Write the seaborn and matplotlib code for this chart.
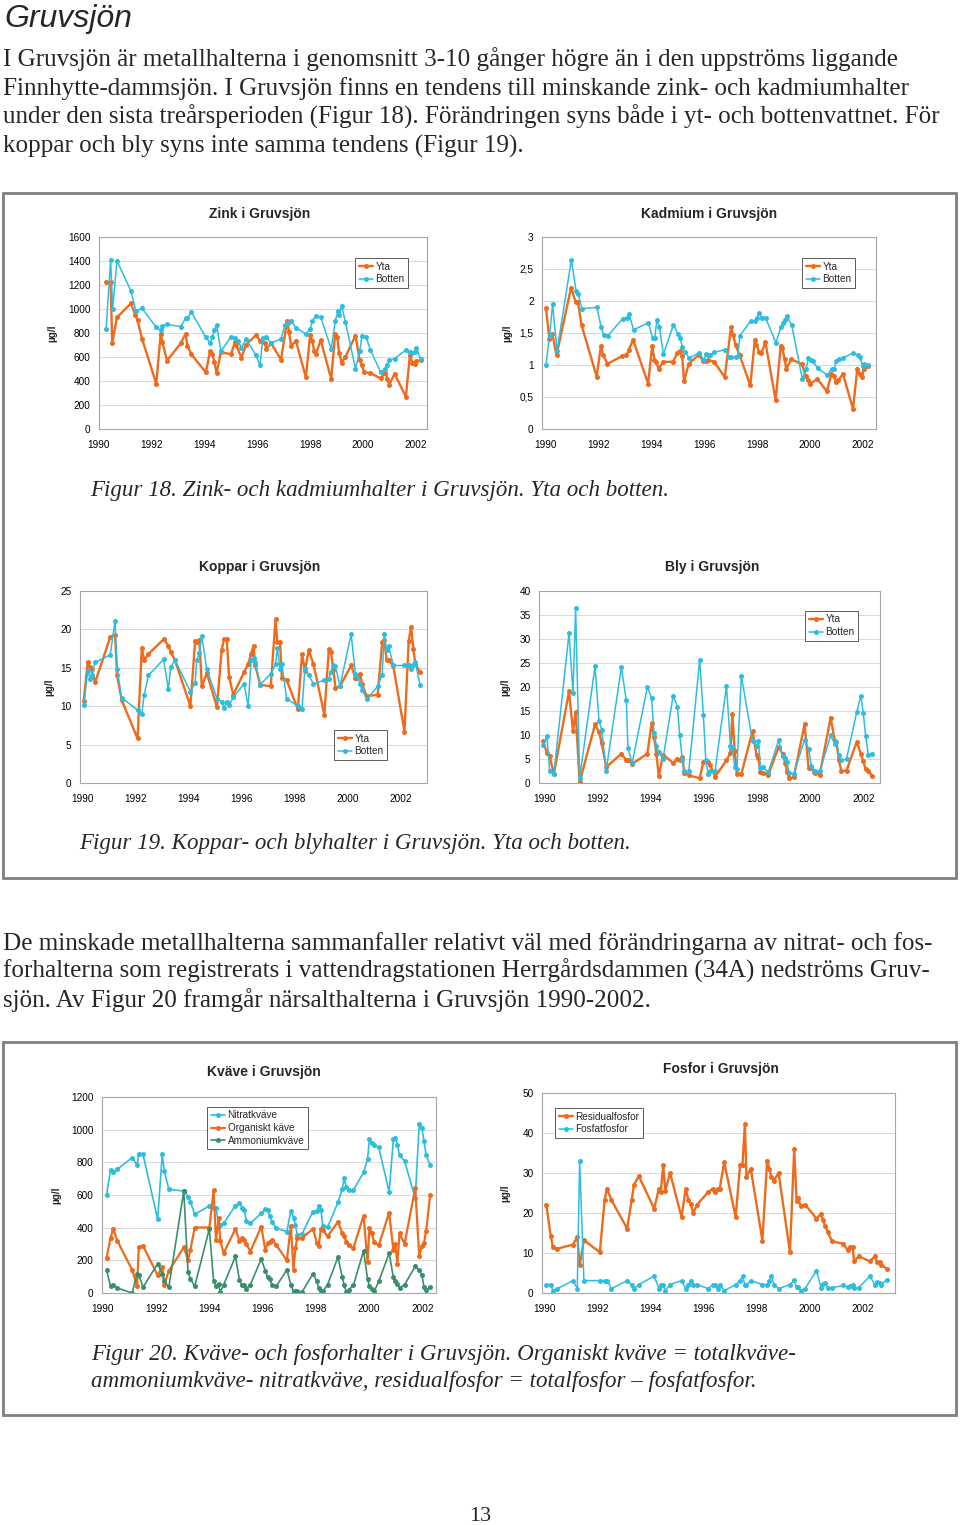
import matplotlib
matplotlib.use("Agg")
import matplotlib.pyplot as plt
from matplotlib.patches import Rectangle
from matplotlib.ticker import FuncFormatter, MultipleLocator
import seaborn as sns

# ---------------- data ----------------
years_ticks = [1990, 1992, 1994, 1996, 1998, 2000, 2002]

zn_yta_x = [1990.27,1990.44,1990.5,1990.68,1991.21,1991.38,1991.46,1991.63,1992.17,1992.34,1992.4,1992.58,1993.1,1993.28,1993.35,1993.5,1994.05,1994.21,1994.3,1994.37,1994.46,1994.62,1995.0,1995.15,1995.2,1995.4,1995.57,1995.94,1996.1,1996.28,1996.34,1996.52,1996.9,1997.13,1997.2,1997.28,1997.46,1997.84,1998.0,1998.09,1998.15,1998.23,1998.4,1998.8,1998.95,1999.03,1999.1,1999.2,1999.34,1999.72,1999.88,1999.96,2000.05,2000.28,2000.67,2000.84,2000.93,2001.0,2001.2,2001.63,2001.78,2001.88,2001.96,2002.03,2002.19]
zn_yta_y = [1222,1222,717,930,1047,947,905,753,378,795,722,570,714,795,692,622,472,650,622,556,467,642,622,722,697,592,703,780,736,717,669,714,578,903,808,692,736,430,780,736,647,628,742,417,795,764,633,553,603,778,572,536,472,467,422,467,419,369,461,269,614,553,544,567,572]
zn_bot_x = [1990.27,1990.44,1990.52,1990.68,1991.21,1991.4,1991.63,1992.17,1992.34,1992.4,1992.58,1993.1,1993.28,1993.35,1993.5,1994.05,1994.21,1994.3,1994.37,1994.46,1994.62,1995.0,1995.15,1995.28,1995.4,1995.57,1995.94,1996.1,1996.21,1996.34,1996.52,1996.9,1997.05,1997.15,1997.28,1997.46,1997.84,1998.0,1998.09,1998.21,1998.4,1998.8,1998.95,1999.05,1999.1,1999.2,1999.34,1999.72,1999.88,1999.96,2000.13,2000.28,2000.67,2000.84,2000.93,2001.0,2001.2,2001.63,2001.78,2001.88,2001.96,2002.03,2002.19]
zn_bot_y = [833,1408,1000,1403,1150,981,1006,847,822,861,872,853,922,925,975,764,717,764,828,864,647,769,758,731,675,750,617,531,758,764,717,750,869,883,903,844,792,833,900,944,933,667,897,981,953,1022,889,503,647,772,764,661,475,503,536,572,586,658,644,633,639,675,583]

cd_yta_x = [1990.0,1990.13,1990.24,1990.4,1990.95,1991.12,1991.21,1991.35,1991.92,1992.08,1992.17,1992.33,1992.89,1993.05,1993.14,1993.3,1993.87,1994.02,1994.11,1994.18,1994.27,1994.43,1994.81,1994.98,1995.07,1995.16,1995.23,1995.41,1995.79,1995.96,1996.05,1996.14,1996.37,1996.77,1997.01,1997.09,1997.18,1997.34,1997.74,1997.91,1997.97,1998.07,1998.16,1998.31,1998.7,1998.89,1998.95,1999.04,1999.1,1999.29,1999.7,1999.84,1999.92,2000.01,2000.28,2000.64,2000.81,2000.91,2000.98,2001.07,2001.25,2001.63,2001.79,2001.88,2001.98,2002.03,2002.19]
cd_yta_y = [1.89,1.41,1.49,1.15,2.21,1.99,1.98,1.62,0.82,1.29,1.15,1.02,1.14,1.15,1.24,1.39,0.71,1.29,1.08,1.04,0.94,1.05,1.05,1.19,1.22,1.14,0.75,1.02,1.16,1.06,1.07,1.08,1.05,0.81,1.59,1.47,1.31,1.15,0.68,1.39,1.32,1.2,1.18,1.36,0.45,1.3,1.26,1.09,0.94,1.09,1.01,0.83,0.76,0.71,0.78,0.59,0.86,0.83,0.73,0.76,0.86,0.31,0.94,0.86,0.81,0.93,0.98]
cd_bot_x = [1990.0,1990.14,1990.25,1990.42,1990.96,1991.14,1991.22,1991.36,1991.93,1992.09,1992.18,1992.35,1992.9,1993.06,1993.15,1993.32,1993.88,1994.04,1994.12,1994.2,1994.29,1994.45,1994.83,1994.99,1995.08,1995.17,1995.25,1995.42,1995.8,1995.98,1996.07,1996.15,1996.22,1996.38,1996.79,1996.95,1997.02,1997.19,1997.26,1997.35,1997.76,1997.92,1997.98,1998.08,1998.17,1998.32,1998.71,1998.9,1998.97,1999.05,1999.12,1999.31,1999.71,1999.85,1999.94,2000.03,2000.1,2000.29,2000.66,2000.82,2000.92,2001.0,2001.09,2001.26,2001.64,2001.8,2001.89,2001.99,2002.04,2002.21]
cd_bot_y = [1.0,1.47,1.95,1.22,2.64,2.16,2.11,1.88,1.9,1.59,1.47,1.46,1.72,1.74,1.79,1.55,1.66,1.42,1.42,1.7,1.6,1.17,1.63,1.49,1.42,1.28,1.21,1.11,1.19,1.08,1.17,1.15,1.15,1.2,1.24,1.12,1.12,1.12,1.14,1.46,1.69,1.68,1.73,1.82,1.73,1.73,1.35,1.59,1.65,1.71,1.77,1.62,0.78,0.93,1.11,1.08,1.06,0.95,0.84,0.94,0.94,1.07,1.09,1.11,1.19,1.15,1.12,0.99,1.02,1.0]

cu_dates = [1990.06,1990.21,1990.3,1990.36,1990.49,1991.06,1991.24,1991.32,1991.49,1992.09,1992.25,1992.34,1992.5,1993.07,1993.25,1993.34,1993.5,1994.08,1994.26,1994.32,1994.42,1994.51,1994.7,1995.08,1995.26,1995.35,1995.45,1995.54,1995.7,1996.1,1996.26,1996.37,1996.46,1996.52,1996.71,1997.11,1997.29,1997.36,1997.46,1997.53,1997.71,1998.13,1998.29,1998.4,1998.54,1998.72,1999.13,1999.3,1999.38,1999.47,1999.55,1999.72,2000.14,2000.3,2000.38,2000.48,2000.55,2000.73,2001.14,2001.31,2001.39,2001.48,2001.56,2001.73,2002.15,2002.31,2002.4,2002.49,2002.56,2002.74]
cu_yta = [10.7,15.7,15.1,14.8,13.1,19.0,19.3,14.0,10.8,5.8,17.6,16.0,16.8,18.7,17.9,17.1,16.0,10.0,18.5,18.4,18.6,12.6,14.3,9.9,17.3,18.7,18.7,13.8,11.5,14.4,15.5,16.8,17.9,15.4,12.8,12.6,21.3,18.3,18.3,13.7,13.4,9.6,16.8,14.6,17.3,15.5,8.9,17.4,17.1,14.7,12.4,12.6,15.3,13.7,13.7,14.2,12.9,11.3,11.5,18.3,18.6,16.0,16.0,15.2,6.7,18.5,20.3,17.4,15.5,14.4]
cu_bot = [10.1,14.6,13.6,14.1,15.7,16.7,21.1,14.8,11.1,9.5,9.0,11.5,14.0,16.1,12.2,15.1,16.0,11.9,13.0,16.0,16.9,19.2,14.8,11.0,10.6,9.8,10.6,10.1,11.2,12.9,10.0,16.0,16.3,15.8,12.8,14.2,15.5,17.6,14.8,15.5,11.0,10.0,9.7,15.0,14.1,12.9,13.4,13.5,14.5,15.4,15.2,12.6,19.4,14.2,13.8,12.9,12.1,10.9,12.6,14.1,19.4,17.3,17.8,15.3,15.3,15.3,14.9,15.3,15.7,12.7]

pb_dates = [1989.94,1990.09,1990.19,1990.35,1990.92,1991.07,1991.17,1991.32,1991.9,1992.05,1992.15,1992.32,1992.89,1993.08,1993.14,1993.3,1993.87,1994.03,1994.12,1994.21,1994.3,1994.46,1994.84,1995.0,1995.09,1995.19,1995.26,1995.43,1995.84,1995.98,1996.07,1996.16,1996.24,1996.42,1996.85,1997.0,1997.07,1997.16,1997.24,1997.41,1997.83,1997.98,1998.05,1998.13,1998.23,1998.42,1998.81,1998.96,1999.06,1999.13,1999.21,1999.38,1999.79,1999.94,2000.05,2000.13,2000.2,2000.36,2000.77,2000.93,2000.99,2001.08,2001.18,2001.37,2001.75,2001.91,2002.0,2002.09,2002.19,2002.34]
pb_yta = [8.7,6.3,5.6,1.9,19.1,10.8,14.7,0.2,12.2,10.6,8.3,3.3,6.1,4.7,4.7,4.0,6.1,12.4,9.6,6.1,1.5,5.9,4.2,5.1,4.7,5.4,2.1,1.6,1.0,4.4,4.5,4.4,3.7,1.3,4.7,6.3,14.3,6.6,1.9,1.9,10.8,5.9,5.2,2.2,2.1,1.6,7.5,6.1,4.2,2.2,1.0,1.2,12.2,3.1,3.1,2.2,2.1,1.7,13.6,8.8,8.5,4.7,2.4,2.6,8.5,6.1,4.5,2.9,2.6,1.4]
pb_bot = [8.0,9.7,2.6,1.9,31.2,18.8,36.4,1.0,24.3,12.9,11.1,2.6,24.1,17.2,7.2,4.2,20.0,17.7,10.4,7.8,6.4,5.0,18.2,15.9,9.9,4.7,2.4,2.4,25.7,14.1,4.7,1.9,2.6,2.6,20.2,7.8,7.5,3.3,2.9,22.3,8.7,7.7,8.8,3.1,3.3,2.2,8.9,5.6,5.2,4.3,2.1,1.9,9.0,7.1,3.5,2.6,2.4,2.4,9.9,8.1,8.5,5.9,4.7,5.0,14.7,18.2,14.6,9.8,5.8,6.1]

n_dates = [1990.14,1990.29,1990.39,1990.54,1991.1,1991.29,1991.35,1991.51,1992.06,1992.23,1992.31,1992.48,1993.04,1993.2,1993.29,1993.45,1994.0,1994.16,1994.25,1994.35,1994.41,1994.54,1994.98,1995.13,1995.23,1995.31,1995.39,1995.54,1995.95,1996.1,1996.19,1996.26,1996.35,1996.51,1996.91,1997.06,1997.16,1997.23,1997.3,1997.48,1997.89,1998.04,1998.1,1998.19,1998.26,1998.44,1998.83,1998.99,1999.06,1999.14,1999.23,1999.41,1999.79,1999.94,2000.01,2000.1,2000.19,2000.36,2000.75,2000.91,2000.98,2001.06,2001.14,2001.33,2001.73,2001.88,2001.98,2002.06,2002.14,2002.29]
nitrat = [600,752,738,757,828,783,854,848,451,848,746,635,624,590,559,482,533,523,523,411,415,427,535,553,523,508,443,427,488,512,508,474,437,397,376,504,462,417,356,362,498,502,533,508,413,403,555,635,702,647,630,630,738,820,940,921,905,891,620,940,952,909,844,809,580,1033,1011,929,844,783]
organiskt = [214,336,393,321,142,41,281,289,108,161,51,136,279,203,264,401,401,630,323,458,319,244,393,319,336,325,299,254,407,264,305,315,325,295,199,413,142,275,336,336,393,305,285,393,386,346,437,366,346,315,295,275,474,189,397,366,311,291,492,264,301,177,366,301,641,228,285,305,380,600]
ammonium = [142,41,47,31,0,118,112,35,179,116,71,37,624,128,87,41,393,71,45,55,6,51,224,81,47,51,26,51,209,136,96,87,51,41,142,51,6,10,10,6,118,71,31,10,10,51,220,96,51,6,20,47,258,87,41,24,10,71,244,96,71,55,31,51,163,142,108,37,20,35]

p_dates = [1990.06,1990.23,1990.31,1990.48,1991.07,1991.23,1991.32,1991.48,1992.08,1992.26,1992.35,1992.52,1993.11,1993.28,1993.37,1993.55,1994.13,1994.31,1994.38,1994.47,1994.55,1994.73,1995.16,1995.32,1995.42,1995.51,1995.6,1995.75,1996.16,1996.35,1996.44,1996.52,1996.6,1996.77,1997.2,1997.37,1997.46,1997.55,1997.61,1997.77,1998.21,1998.39,1998.47,1998.55,1998.64,1998.82,1999.25,1999.41,1999.5,1999.57,1999.65,1999.82,2000.25,2000.42,2000.5,2000.58,2000.67,2000.84,2001.26,2001.42,2001.51,2001.61,2001.67,2001.84,2002.26,2002.45,2002.54,2002.64,2002.7,2002.89]
residualfosfor = [22.1,14.2,11.5,11.1,12.1,14.0,6.9,13.2,10.2,23.2,26.1,23.2,16.1,23.2,27.1,29.2,21.1,26.1,25.3,32.1,25.6,30.0,19.0,26.1,23.2,22.3,20.0,22.1,25.2,26.1,25.2,26.1,26.1,32.7,19.0,32.1,32.1,42.3,29.0,31.1,13.1,33.1,31.1,28.9,28.1,30.0,10.2,36.0,22.9,23.8,21.7,22.1,18.6,19.8,18.2,16.8,15.2,12.9,12.3,10.8,11.5,11.4,7.9,9.2,7.9,9.2,7.7,7.7,7.1,6.1]
fosfatfosfor = [2.1,2.1,0.6,1.1,3.1,1.1,33.1,3.1,3.1,3.1,3.1,1.1,3.1,2.1,1.1,2.1,4.2,1.1,2.1,2.1,0.6,2.1,3.1,1.1,2.1,3.1,2.1,2.1,1.1,2.1,2.1,1.1,2.1,0.6,2.1,3.1,4.2,2.1,2.1,3.1,2.1,2.1,2.9,4.2,2.1,1.1,2.1,3.2,1.4,1.4,0.6,1.1,5.6,1.3,2.2,2.4,1.3,1.3,1.9,1.5,1.7,1.9,1.3,1.3,4.2,2.1,2.7,2.4,2.1,3.3]

# ---------------- style ----------------
sns.set_style("white")
plt.rcParams['font.family'] = ['Liberation Sans', 'DejaVu Sans']

ORANGE = "#EE6B1E"
BLUE = "#2DBDE0"
GREEN = "#3A8F6B"

W, H = 960, 1525
fig = plt.figure(figsize=(W / 100, H / 100), dpi=100)
fig.patch.set_facecolor("white")


def fx(x):
    return x / W


def fy(y):
    return 1 - y / H


def add_ax(l, t, r, b):
    return fig.add_axes([l / W, 1 - b / H, (r - l) / W, (b - t) / H])


def style_ax(ax, xlim, ylim, ystep, ylab_x, fmt=None):
    ax.set_xlim(*xlim)
    ax.set_ylim(*ylim)
    ax.set_xticks(years_ticks)
    ax.set_xticklabels([str(y) for y in years_ticks])
    ax.yaxis.set_major_locator(MultipleLocator(ystep))
    if fmt is not None:
        ax.yaxis.set_major_formatter(FuncFormatter(fmt))
    ax.yaxis.grid(True, color="#D9D9D9", lw=0.7)
    ax.xaxis.grid(False)
    ax.set_axisbelow(True)
    for s in ax.spines.values():
        s.set_color("#A6A6A6")
        s.set_linewidth(0.8)
        s.set_visible(True)
    ax.tick_params(axis="both", direction="out", length=2.5, width=0.6,
                   color="#808080", labelsize=7.2, labelcolor="black")
    ax.tick_params(axis="y", pad=3.5)
    ax.tick_params(axis="x", pad=5.5)
    ax.set_xlabel("")
    ax.set_ylabel("µg/l", fontsize=7.2, fontweight="bold")
    ax.yaxis.set_label_coords(ylab_x, 0.5)


def line(ax, x, y, color, lw, label):
    sns.lineplot(x=x, y=y, ax=ax, color=color, linewidth=lw, marker="o",
                 markersize=3.6, markeredgewidth=0, estimator=None,
                 errorbar=None, sort=False, label=label)


def legend(ax, l, t):
    h, lab = ax.get_legend_handles_labels()
    leg = ax.legend(h, lab, loc="upper left", bbox_to_anchor=(fx(l), fy(t)),
                    bbox_transform=fig.transFigure, frameon=True, fancybox=False,
                    edgecolor="#404040", framealpha=1, fontsize=7.2,
                    handlelength=1.4, handletextpad=0.3, borderpad=0.35,
                    labelspacing=0.25, borderaxespad=0, numpoints=1)
    leg.get_frame().set_linewidth(0.6)


def chart_title(x, y, s):
    fig.text(fx(x), fy(y), s, ha="center", va="center", fontsize=10,
             fontweight="bold")


comma = lambda v, p: ("%g" % v).replace(".", ",")

# ---------------- Zink ----------------
ax = add_ax(99, 237, 427, 429)
line(ax, zn_yta_x, zn_yta_y, ORANGE, 1.7, "Yta")
line(ax, zn_bot_x, zn_bot_y, BLUE, 1.1, "Botten")
style_ax(ax, (1990.0, 2002.43), (0, 1600), 200, -0.128)
legend(ax, 355, 258)
chart_title(260, 214, "Zink i Gruvsjön")

# ---------------- Kadmium ----------------
ax = add_ax(542, 237, 876, 429)
line(ax, cd_yta_x, cd_yta_y, ORANGE, 1.7, "Yta")
line(ax, cd_bot_x, cd_bot_y, BLUE, 1.1, "Botten")
style_ax(ax, (1989.85, 2002.5), (0, 3), 0.5, -0.09, comma)
legend(ax, 802, 258)
chart_title(709, 214, "Kadmium i Gruvsjön")

# ---------------- Koppar ----------------
ax = add_ax(80, 591, 427, 783)
line(ax, cu_dates, cu_yta, ORANGE, 1.7, "Yta")
line(ax, cu_dates, cu_bot, BLUE, 1.1, "Botten")
style_ax(ax, (1989.92, 2003.0), (0, 25), 5, -0.075)
legend(ax, 334, 730)
chart_title(260, 567, "Koppar i Gruvsjön")

# ---------------- Bly ----------------
ax = add_ax(539, 591, 880, 783)
line(ax, pb_dates, pb_yta, ORANGE, 1.7, "Yta")
line(ax, pb_dates, pb_bot, BLUE, 1.1, "Botten")
style_ax(ax, (1989.79, 2002.63), (0, 40), 5, -0.085)
legend(ax, 805, 611)
chart_title(712, 567, "Bly i Gruvsjön")

# ---------------- Kväve ----------------
ax = add_ax(102, 1097, 436, 1293)
line(ax, n_dates, nitrat, BLUE, 1.2, "Nitratkväve")
line(ax, n_dates, organiskt, ORANGE, 1.6, "Organiskt käve")
line(ax, n_dates, ammonium, GREEN, 1.2, "Ammoniumkväve")
style_ax(ax, (1989.97, 2002.51), (0, 1200), 200, -0.123)
legend(ax, 207, 1107)
chart_title(264, 1072, "Kväve i Gruvsjön")

# ---------------- Fosfor ----------------
ax = add_ax(542, 1093, 895, 1293)
line(ax, p_dates, residualfosfor, ORANGE, 1.7, "Residualfosfor")
line(ax, p_dates, fosfatfosfor, BLUE, 1.1, "Fosfatfosfor")
style_ax(ax, (1989.9, 2003.21), (0, 50), 10, -0.089)
legend(ax, 555, 1108)
chart_title(721, 1069, "Fosfor i Gruvsjön")

# ---------------- frames ----------------
for (t, b) in [(193, 878), (1042, 1415)]:
    fig.patches.append(Rectangle((fx(3), fy(b)), (956 - 3) / W, (b - t) / H,
                                 transform=fig.transFigure, fill=False,
                                 edgecolor="#7F7F7F", lw=2.0))

# ---------------- page text ----------------
SERIF = ["Liberation Serif", "DejaVu Serif"]
fig.text(fx(4), fy(27), "Gruvsjön", ha="left", va="baseline", fontsize=23,
         style="italic", family=["Liberation Sans", "DejaVu Sans"])

para1 = [
    "I Gruvsjön är metallhalterna i genomsnitt 3-10 gånger högre än i den uppströms liggande",
    "Finnhytte-dammsjön. I Gruvsjön finns en tendens till minskande zink- och kadmiumhalter",
    "under den sista treårsperioden (Figur 18). Förändringen syns både i yt- och bottenvattnet. För",
    "koppar och bly syns inte samma tendens (Figur 19).",
]
for s, yb in zip(para1, [66, 95, 124, 153]):
    fig.text(fx(3), fy(yb), s, ha="left", va="baseline", fontsize=18.1, family=SERIF)

para2 = [
    "De minskade metallhalterna sammanfaller relativt väl med förändringarna av nitrat- och fos-",
    "forhalterna som registrerats i vattendragstationen Herrgårdsdammen (34A) nedströms Gruv-",
    "sjön. Av Figur 20 framgår närsalthalterna i Gruvsjön 1990-2002.",
]
for s, yb in zip(para2, [950, 978, 1007]):
    fig.text(fx(3), fy(yb), s, ha="left", va="baseline", fontsize=18.1, family=SERIF)

fig.text(fx(90), fy(496), "Figur 18. Zink- och kadmiumhalter i Gruvsjön. Yta och botten.",
         ha="left", va="baseline", fontsize=16.6, style="italic", family=SERIF)
fig.text(fx(79), fy(849), "Figur 19. Koppar- och blyhalter i Gruvsjön. Yta och botten.",
         ha="left", va="baseline", fontsize=16.6, style="italic", family=SERIF)
fig.text(fx(91), fy(1360), "Figur 20. Kväve- och fosforhalter i Gruvsjön. Organiskt kväve = totalkväve-",
         ha="left", va="baseline", fontsize=16.6, style="italic", family=SERIF)
fig.text(fx(91), fy(1387), "ammoniumkväve- nitratkväve, residualfosfor = totalfosfor – fosfatfosfor.",
         ha="left", va="baseline", fontsize=16.6, style="italic", family=SERIF)

fig.text(fx(480), fy(1521), "13", ha="center", va="baseline", fontsize=16, family=SERIF)

fig.savefig("out.png", dpi=100, facecolor="white")
